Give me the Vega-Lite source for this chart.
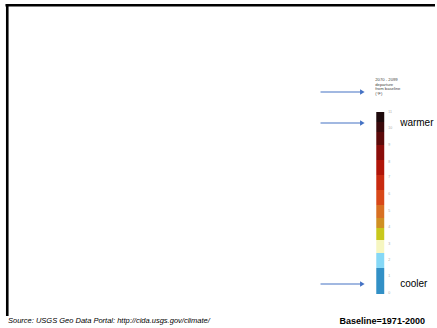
{
  "$schema": "https://vega.github.io/schema/vega-lite/v6.json",
  "width": 437,
  "height": 328,
  "autosize": {"type": "fit", "contains": "padding"},
  "padding": 0,
  "background": "white",
  "config": {"view": {"stroke": null}},
  "datasets": {
    "frame": [
      {"x": 5.5, "x2": 437, "y": 5.3, "y2": 5.3},
      {"x": 7.3, "x2": 7.3, "y": 4, "y2": 316}
    ],
    "bar": [
      {"seg": "s01", "x": 378, "x2": 386, "y": 112, "y2": 122},
      {"seg": "s02", "x": 378, "x2": 386, "y": 122, "y2": 132},
      {"seg": "s03", "x": 378, "x2": 386, "y": 132, "y2": 145},
      {"seg": "s04", "x": 378, "x2": 386, "y": 145, "y2": 160},
      {"seg": "s05", "x": 378, "x2": 386, "y": 160, "y2": 175},
      {"seg": "s06", "x": 378, "x2": 386, "y": 175, "y2": 190},
      {"seg": "s07", "x": 378, "x2": 386, "y": 190, "y2": 205},
      {"seg": "s08", "x": 378, "x2": 386, "y": 205, "y2": 218},
      {"seg": "s09", "x": 378, "x2": 386, "y": 218, "y2": 228},
      {"seg": "s10", "x": 378, "x2": 386, "y": 228, "y2": 240},
      {"seg": "s11", "x": 378, "x2": 386, "y": 240, "y2": 253},
      {"seg": "s12", "x": 378, "x2": 386, "y": 253, "y2": 268},
      {"seg": "s13", "x": 378, "x2": 386, "y": 268, "y2": 294}
    ],
    "ticks": [
      {"t": "11", "y": 112}, {"t": "10", "y": 128}, {"t": "9", "y": 145},
      {"t": "8", "y": 162}, {"t": "7", "y": 177}, {"t": "6", "y": 194},
      {"t": "5", "y": 211}, {"t": "4", "y": 227}, {"t": "3", "y": 244},
      {"t": "2", "y": 260}, {"t": "1", "y": 276}, {"t": "0", "y": 293}
    ],
    "legtitle": [
      {"t": "2070 - 2099", "y": 80},
      {"t": "departure", "y": 84.5},
      {"t": "from baseline", "y": 89},
      {"t": "(°F)", "y": 93.5}
    ],
    "arrows": [
      {"x": 322, "x2": 364, "y": 92},
      {"x": 322, "x2": 364, "y": 123},
      {"x": 322, "x2": 364, "y": 284}
    ],
    "words": [
      {"t": "warmer", "x": 402, "y": 123},
      {"t": "cooler", "x": 402, "y": 284}
    ]
  },
  "layer": [
    {
      "data": {"name": "frame"},
      "mark": {"type": "rule", "color": "black", "strokeWidth": 2.6},
      "encoding": {
        "x": {"field": "x", "type": "quantitative", "scale": {"domain": [0, 437], "nice": false, "zero": false}, "axis": null},
        "x2": {"field": "x2"},
        "y": {"field": "y", "type": "quantitative", "scale": {"domain": [0, 328], "reverse": true, "nice": false, "zero": false}, "axis": null},
        "y2": {"field": "y2"}
      }
    },
    {
      "data": {"name": "bar"},
      "mark": {"type": "rect"},
      "encoding": {
        "x": {"field": "x", "type": "quantitative"},
        "x2": {"field": "x2"},
        "y": {"field": "y", "type": "quantitative"},
        "y2": {"field": "y2"},
        "color": {
          "field": "seg", "type": "nominal", "legend": null,
          "scale": {
            "domain": ["s01","s02","s03","s04","s05","s06","s07","s08","s09","s10","s11","s12","s13"],
            "range": ["#1e0a0c","#3a0a0c","#5c0a0a","#8a0c0a","#b01408","#c82a10","#d84818","#d87022","#d09022","#c8c81c","#f6f6c0","#86d8f6","#3290c6"]
          }
        }
      }
    },
    {
      "data": {"name": "ticks"},
      "mark": {"type": "text", "align": "left", "baseline": "middle", "fontSize": 3.5, "color": "#aaaaaa", "font": "Liberation Sans"},
      "encoding": {
        "x": {"datum": 390, "type": "quantitative"},
        "y": {"field": "y", "type": "quantitative"},
        "text": {"field": "t"}
      }
    },
    {
      "data": {"name": "legtitle"},
      "mark": {"type": "text", "align": "left", "baseline": "middle", "fontSize": 4.2, "color": "#444444", "font": "Liberation Sans"},
      "encoding": {
        "x": {"datum": 377, "type": "quantitative"},
        "y": {"field": "y", "type": "quantitative"},
        "text": {"field": "t"}
      }
    },
    {
      "data": {"name": "arrows"},
      "mark": {"type": "rule", "color": "#4472c4", "strokeWidth": 1.2},
      "encoding": {
        "x": {"field": "x", "type": "quantitative"},
        "x2": {"field": "x2"},
        "y": {"field": "y", "type": "quantitative"}
      }
    },
    {
      "data": {"name": "arrows"},
      "mark": {"type": "point", "shape": "triangle-right", "filled": true, "color": "#4472c4", "size": 28, "opacity": 1},
      "encoding": {
        "x": {"field": "x2", "type": "quantitative"},
        "y": {"field": "y", "type": "quantitative"}
      }
    },
    {
      "data": {"name": "words"},
      "mark": {"type": "text", "align": "left", "baseline": "middle", "fontSize": 10, "color": "black", "font": "Liberation Sans"},
      "encoding": {
        "x": {"field": "x", "type": "quantitative"},
        "y": {"field": "y", "type": "quantitative"},
        "text": {"field": "t"}
      }
    },
    {
      "data": {"values": [{"t": "Baseline=1971-2000", "x": 384, "y": 321}]},
      "mark": {"type": "text", "align": "center", "baseline": "middle", "fontSize": 9, "fontWeight": "bold", "color": "black", "font": "Liberation Sans"},
      "encoding": {
        "x": {"field": "x", "type": "quantitative"},
        "y": {"field": "y", "type": "quantitative"},
        "text": {"field": "t"}
      }
    },
    {
      "data": {"values": [{"t": "Source: USGS Geo Data Portal: http://cida.usgs.gov/climate/", "x": 8, "y": 321}]},
      "mark": {"type": "text", "align": "left", "baseline": "middle", "fontSize": 7.5, "fontStyle": "italic", "color": "black", "font": "Liberation Sans"},
      "encoding": {
        "x": {"field": "x", "type": "quantitative"},
        "y": {"field": "y", "type": "quantitative"},
        "text": {"field": "t"}
      }
    }
  ]
}
